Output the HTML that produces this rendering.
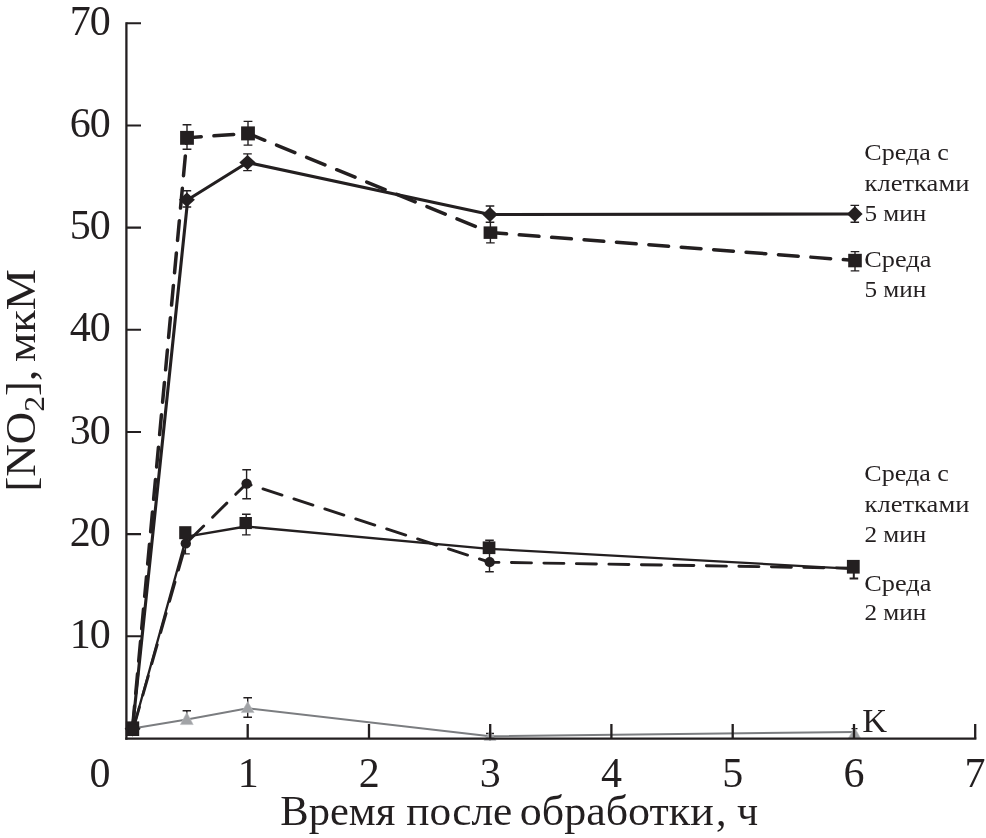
<!DOCTYPE html>
<html lang="ru">
<head>
<meta charset="utf-8">
<title>[NO2], мкМ — Время после обработки, ч</title>
<style>
  html, body { margin: 0; padding: 0; background: #ffffff; }
  body { width: 986px; height: 838px; overflow: hidden; }
  svg { display: block; will-change: transform; }
  text { font-family: "Liberation Serif", "DejaVu Serif", serif; fill: #231f20; }
  .ax  { stroke: #231f20; stroke-width: 2.3; fill: none; stroke-linecap: butt; }
  .tick { font-size: 42px; }
  .leg  { font-size: 24px; }
  .eb  { stroke: #231f20; stroke-width: 1.4; fill: none; }
  .mk  { fill: #231f20; stroke: none; }
  .gl  { stroke: #7b7d80; stroke-width: 1.9; fill: none; }
  .gm  { fill: #a1a3a6; stroke: #b9bbbd; stroke-width: 0.6; }
</style>
</head>
<body>
<svg width="986" height="838" viewBox="0 0 986 838">
  <rect x="0" y="0" width="986" height="838" fill="#ffffff"/>

  <!-- ===== grey control series (K) ===== -->
  <g id="series-k">
    <polyline class="gl" points="132.5,728.5 186.8,719.5 247.7,708.3 490,736.2 854.5,732"/>
    <!-- error bars -->
    <path class="eb" d="M186.8,719 V710.8 M182.6,710.8 H191"/>
    <path class="eb" d="M247.7,697.8 V717.2 M243.4,697.8 H252 M243.4,717.2 H252"/>
    <path class="eb" d="M490,731 V741 M486,733.5 H494"/>
    <path class="eb" d="M854.5,728.6 V736 M851.5,728.6 H857.5"/>
    <!-- triangles -->
    <polygon class="gm" points="186.8,712.4 193.2,724.6 180.4,724.6"/>
    <polygon class="gm" points="247.7,701.6 254.1,712.6 241.3,712.6"/>
    <polygon class="gm" points="490,731.6 496,740.4 484,740.4"/>
    <polygon class="gm" points="854.5,727.4 860.6,738.2 848.4,738.2"/>
  </g>

  <!-- ===== axes ===== -->
  <g id="axes">
    <path class="ax" d="M126.4,22.2 V739.7"/>
    <path class="ax" d="M125.3,738.6 H976.4"/>
    <!-- y ticks -->
    <path class="ax" style="stroke-width:2.05" d="M126.4,23.3 H141 M126.4,125.5 H141 M126.4,227.6 H141 M126.4,329.8 H141 M126.4,432 H141 M126.4,534.1 H141 M126.4,636.3 H141"/>
    <!-- x ticks -->
    <path class="ax" d="M247.7,738.6 V724.1 M369,738.6 V724.1 M490.2,738.6 V724.1 M611.4,738.6 V724.1 M732.7,738.6 V724.1 M854,738.6 V724.1 M975.2,738.6 V724.1"/>
  </g>

  <!-- ===== 2 min series ===== -->
  <g id="series-2min">
    <!-- D: Среда 2 мин (solid, squares) -->
    <polyline points="133.3,728.5 186.5,536.6 245.8,526.5 489.2,548.8 853.4,568.8" fill="none" stroke="#231f20" stroke-width="2.3" stroke-linejoin="round"/>
    <!-- C: Среда с клетками 2 мин (dashed, circles) -->
    <polyline points="133.3,728.5 186,543.4 246.6,483.6 489.7,562.2 853.4,568.2" fill="none" stroke="#231f20" stroke-width="2.9" stroke-dasharray="20 12.5" stroke-dashoffset="30.2" stroke-linecap="round"/>
    <!-- error bars -->
    <path class="eb" d="M185.4,527 V553.9 M181.2,553.9 H189.8"/>
    <path class="eb" d="M246.6,469.8 V498.8 M242.3,469.8 H251 M242.3,498.8 H251"/>
    <path class="eb" d="M246.2,514.2 V534.9 M242,514.2 H250.6 M242,534.9 H250.6"/>
    <path class="eb" d="M489.5,540.2 V571.8 M485.2,540.2 H493.8 M485.2,571.8 H493.8"/>
    <path class="eb" d="M853.8,560 V578.6 M849.6,578.6 H858.2" style="stroke-width:2"/>
    <!-- markers -->
    <circle class="mk" cx="185.8" cy="543.4" r="5.2"/>
    <circle class="mk" cx="246.6" cy="483.6" r="5.2"/>
    <circle class="mk" cx="489.7" cy="562.2" r="5.1"/>
    <rect class="mk" x="179.2" y="526.2" width="12.2" height="13"/>
    <rect class="mk" x="239.5" y="517" width="12.4" height="12.1"/>
    <rect class="mk" x="482.7" y="541.4" width="12.7" height="12.7"/>
    <rect class="mk" x="846.9" y="559.9" width="12.8" height="13.7"/>
  </g>

  <!-- ===== 5 min series ===== -->
  <g id="series-5min">
    <!-- A: Среда с клетками 5 мин (solid, diamonds) -->
    <polyline points="132.5,728.5 187.7,199.8 247.5,162.5 490,214.5 854.8,214" fill="none" stroke="#231f20" stroke-width="3.1" stroke-linejoin="round"/>
    <!-- B: Среда 5 мин (dashed, squares) -->
    <polyline points="132.5,728.5 187,137.8 248,133.4 490.4,232.6 855,260.5" fill="none" stroke="#231f20" stroke-width="3.5" stroke-dasharray="19.8 12.7" stroke-dashoffset="29.8" stroke-linecap="round"/>
    <!-- error bars -->
    <path class="eb" d="M187,124.8 V149.3 M182.6,124.8 H191.4 M182.6,149.3 H191.4"/>
    <path class="eb" d="M248,121.4 V145.1 M243.6,121.4 H252.4 M243.6,145.1 H252.4"/>
    <path class="eb" d="M186.9,190.8 V207 M182.6,190.8 H191.2 M182.6,207 H191.2"/>
    <path class="eb" d="M247.5,153.9 V170.6 M243.2,153.9 H251.8 M243.2,170.6 H251.8"/>
    <path class="eb" d="M490,206 V222.2 M485.7,206 H494.3 M485.7,222.2 H494.3"/>
    <path class="eb" d="M490.4,222.2 V242.9 M486.1,242.9 H494.7"/>
    <path class="eb" d="M854.8,205.4 V222.3 M850.5,205.4 H859.1 M850.5,222.3 H859.1"/>
    <path class="eb" d="M855,251.6 V270.9 M850.7,251.6 H859.3 M850.7,270.9 H859.3"/>
    <!-- markers: squares -->
    <rect class="mk" x="180.1" y="130.9" width="13.8" height="13.9"/>
    <rect class="mk" x="241.1" y="126.4" width="13.8" height="14"/>
    <rect class="mk" x="483.6" y="226.4" width="13.7" height="12.5"/>
    <rect class="mk" x="848.2" y="253.8" width="13.6" height="13.5"/>
    <!-- markers: diamonds -->
    <polygon class="mk" points="186.9,192.6 194.9,199.8 186.9,207 178.9,199.8"/>
    <polygon class="mk" points="247.5,155 255.7,162.5 247.5,170 239.3,162.5"/>
    <polygon class="mk" points="490,206.9 497.7,214.5 490,222.1 482.3,214.5"/>
    <polygon class="mk" points="854.8,206.2 862.6,214 854.8,221.8 847,214"/>
  </g>

  <!-- origin marker (all series start here) -->
  <rect class="mk" x="125.8" y="721.4" width="13.4" height="14.6"/>
  <polygon class="mk" points="132.6,721 140.6,728.7 132.6,736.4 124.6,728.7"/>
  <circle class="mk" cx="133" cy="729" r="5.2"/>

  <!-- ===== y tick labels ===== -->
  <g class="tick" text-anchor="end">
    <text x="110.7" y="35" textLength="41" lengthAdjust="spacing">70</text>
    <text x="110.7" y="137.1" textLength="41" lengthAdjust="spacing">60</text>
    <text x="110.7" y="239.2" textLength="41" lengthAdjust="spacing">50</text>
    <text x="110.7" y="341.4" textLength="41" lengthAdjust="spacing">40</text>
    <text x="110.7" y="443.5" textLength="41" lengthAdjust="spacing">30</text>
    <text x="110.7" y="545.6" textLength="41" lengthAdjust="spacing">20</text>
    <text x="110.7" y="647.8" textLength="41" lengthAdjust="spacing">10</text>
  </g>

  <!-- ===== x tick labels ===== -->
  <g class="tick" text-anchor="middle">
    <text x="100" y="787">0</text>
    <text x="248.2" y="787">1</text>
    <text x="369.2" y="787">2</text>
    <text x="490.2" y="787">3</text>
    <text x="611.5" y="787">4</text>
    <text x="732.8" y="787">5</text>
    <text x="854" y="787">6</text>
    <text x="975" y="787">7</text>
  </g>

  <!-- ===== axis titles ===== -->
  <g font-size="42">
    <text x="280.3" y="824.5" textLength="114.9" lengthAdjust="spacingAndGlyphs">Время</text>
    <text x="406.3" y="824.5" textLength="106" lengthAdjust="spacingAndGlyphs">после</text>
    <text x="519.8" y="824.5" textLength="193.9" lengthAdjust="spacingAndGlyphs">обработки</text>
    <text x="716" y="824.5">,</text>
    <text x="737.1" y="824.5">ч</text>
  </g>
  <text transform="translate(35,491.6) rotate(-90) scale(1.057,1)" font-size="42.5">[NO<tspan font-size="30" dy="9">2</tspan><tspan dy="-9">],</tspan></text>
  <text transform="translate(35,362) rotate(-90) scale(1.09,1)" font-size="42.5">мкМ</text>

  <!-- ===== series labels ===== -->
  <g class="leg" lengthAdjust="spacingAndGlyphs">
    <text x="864.3" y="160.2" textLength="84.5" lengthAdjust="spacingAndGlyphs">Среда с</text>
    <text x="864.6" y="191" textLength="104.8" lengthAdjust="spacingAndGlyphs">клетками</text>
    <text x="864.4" y="220.7" textLength="61.8" lengthAdjust="spacingAndGlyphs">5 мин</text>
    <text x="864.3" y="266.6" textLength="67.1" lengthAdjust="spacingAndGlyphs">Среда</text>
    <text x="864.4" y="296.5" textLength="61.8" lengthAdjust="spacingAndGlyphs">5 мин</text>
    <text x="864.3" y="481" textLength="84.5" lengthAdjust="spacingAndGlyphs">Среда с</text>
    <text x="864.6" y="511.8" textLength="104.8" lengthAdjust="spacingAndGlyphs">клетками</text>
    <text x="864.4" y="541.5" textLength="61.8" lengthAdjust="spacingAndGlyphs">2 мин</text>
    <text x="864.3" y="590.8" textLength="67.1" lengthAdjust="spacingAndGlyphs">Среда</text>
    <text x="864.4" y="620" textLength="61.8" lengthAdjust="spacingAndGlyphs">2 мин</text>
  </g>
  <text x="862.2" y="732" font-size="33" textLength="24.9" lengthAdjust="spacingAndGlyphs">K</text>
</svg>
</body>
</html>
